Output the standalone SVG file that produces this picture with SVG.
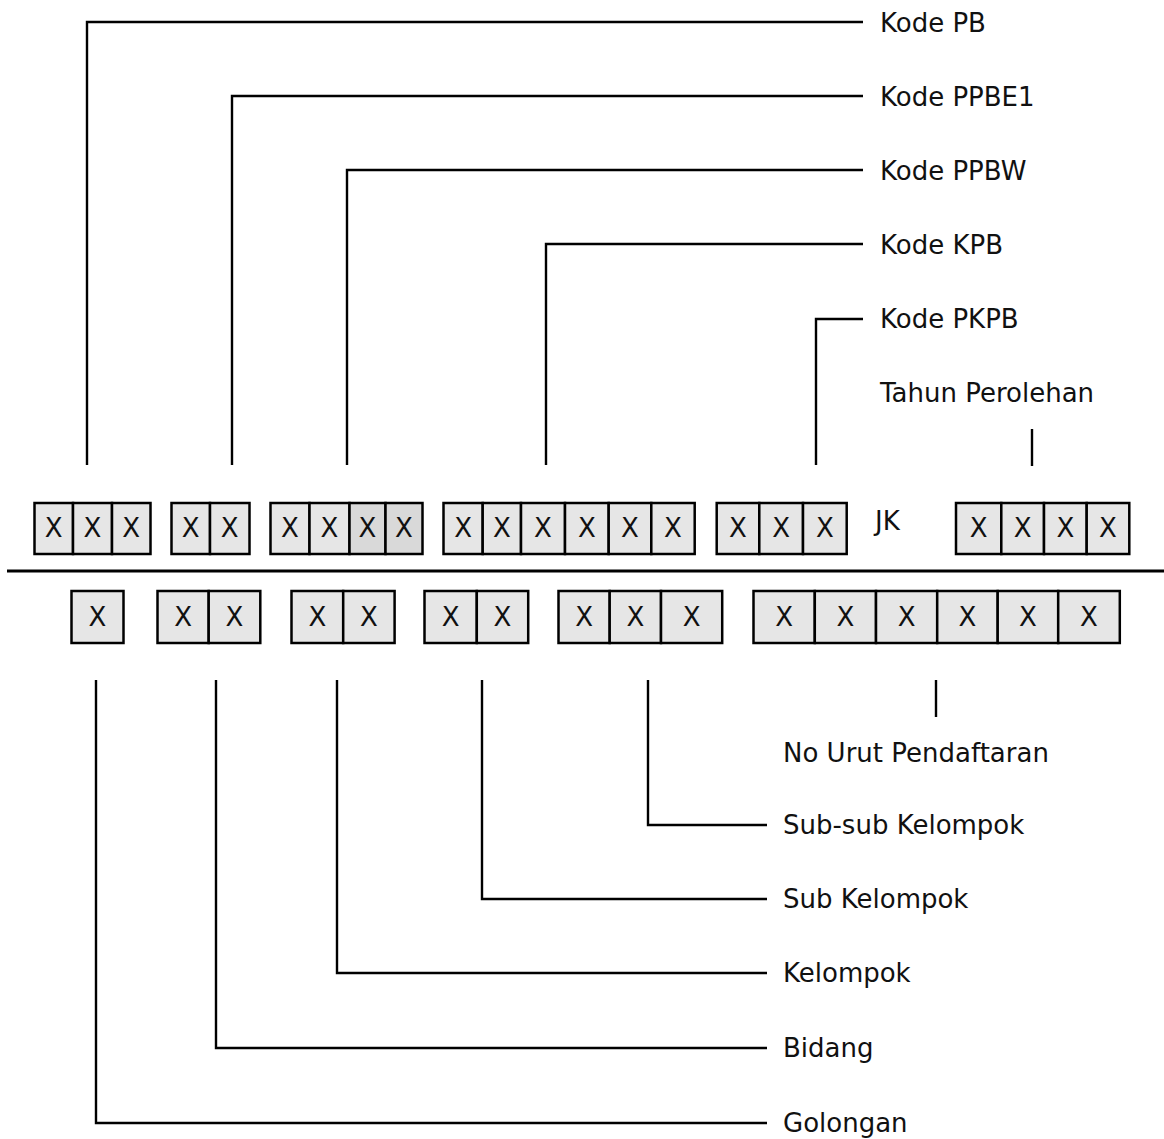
<svg xmlns="http://www.w3.org/2000/svg" width="1164" height="1139" viewBox="0 0 1164 1139">
<style>
.c{fill:#e6e6e6;stroke:#000;stroke-width:2.5}
.d{fill:#d9d9d9;stroke:#000;stroke-width:2.5}
.t{font-family:"DejaVu Sans","Liberation Sans",sans-serif;font-size:26px;fill:#111}
.x{font-family:"DejaVu Sans","Liberation Sans",sans-serif;font-size:26px;fill:#111;text-anchor:middle}
.l{fill:none;stroke:#000;stroke-width:2.4}
</style>
<rect width="1164" height="1139" fill="#fff"/>
<g id="connectors" class="l">
<polyline points="87,465 87,22 863,22"/>
<polyline points="232,465 232,96 863,96"/>
<polyline points="347,465 347,170 863,170"/>
<polyline points="546,465 546,244 863,244"/>
<polyline points="816,465 816,319 863,319"/>
<line x1="1032" y1="429" x2="1032" y2="466"/>
<polyline points="96,680 96,1123 767,1123"/>
<polyline points="216,680 216,1048 767,1048"/>
<polyline points="337,680 337,973 767,973"/>
<polyline points="482,680 482,899 767,899"/>
<polyline points="648,680 648,825 767,825"/>
<line x1="936" y1="680" x2="936" y2="717"/>
<line x1="7" y1="571" x2="1164" y2="571" stroke-width="3"/>
</g>
<g id="labels">
<text class="t" x="880" y="32">Kode PB</text>
<text class="t" x="880" y="106">Kode PPBE1</text>
<text class="t" x="880" y="180">Kode PPBW</text>
<text class="t" x="880" y="254">Kode KPB</text>
<text class="t" x="880" y="328">Kode PKPB</text>
<text class="t" x="880" y="402">Tahun Perolehan</text>
<text class="t" x="783" y="762">No Urut Pendaftaran</text>
<text class="t" x="783" y="834">Sub-sub Kelompok</text>
<text class="t" x="783" y="908">Sub Kelompok</text>
<text class="t" x="783" y="982">Kelompok</text>
<text class="t" x="783" y="1057">Bidang</text>
<text class="t" x="783" y="1132">Golongan</text>
<text class="t" x="875" y="530">JK</text>
</g>
<g id="top-1">
<rect class="c" x="34.5" y="503" width="38.5" height="51"/><rect class="c" x="73" y="503" width="39" height="51"/><rect class="c" x="112" y="503" width="38.5" height="51"/>
<text class="x" x="53.7" y="537">X</text><text class="x" x="92.5" y="537">X</text><text class="x" x="131.2" y="537">X</text>
</g>
<g id="top-2">
<rect class="c" x="171.5" y="503" width="38.5" height="51"/><rect class="c" x="210" y="503" width="39.5" height="51"/>
<text class="x" x="190.7" y="537">X</text><text class="x" x="229.7" y="537">X</text>
</g>
<g id="top-3">
<rect class="c" x="270.5" y="503" width="39" height="51"/><rect class="c" x="309.5" y="503" width="40" height="51"/><rect class="d" x="349.5" y="503" width="36" height="51"/><rect class="d" x="385.5" y="503" width="37" height="51"/>
<text class="x" x="290" y="537">X</text><text class="x" x="329.5" y="537">X</text><text class="x" x="367.5" y="537">X</text><text class="x" x="404" y="537">X</text>
</g>
<g id="top-4">
<rect class="c" x="443.5" y="503" width="39.2" height="51"/><rect class="c" x="482.7" y="503" width="38.3" height="51"/><rect class="c" x="521" y="503" width="44" height="51"/><rect class="c" x="565" y="503" width="43.7" height="51"/><rect class="c" x="608.7" y="503" width="42.6" height="51"/><rect class="c" x="651.3" y="503" width="43.4" height="51"/>
<text class="x" x="463.1" y="537">X</text><text class="x" x="501.8" y="537">X</text><text class="x" x="543" y="537">X</text><text class="x" x="586.8" y="537">X</text><text class="x" x="630" y="537">X</text><text class="x" x="673" y="537">X</text>
</g>
<g id="top-5">
<rect class="c" x="716.7" y="503" width="42.6" height="51"/><rect class="c" x="759.3" y="503" width="43.7" height="51"/><rect class="c" x="803" y="503" width="43.7" height="51"/>
<text class="x" x="738" y="537">X</text><text class="x" x="781.1" y="537">X</text><text class="x" x="824.8" y="537">X</text>
</g>
<g id="top-6">
<rect class="c" x="956" y="503" width="45.3" height="51"/><rect class="c" x="1001.3" y="503" width="42.7" height="51"/><rect class="c" x="1044" y="503" width="42.7" height="51"/><rect class="c" x="1086.7" y="503" width="42.6" height="51"/>
<text class="x" x="978.6" y="537">X</text><text class="x" x="1022.6" y="537">X</text><text class="x" x="1065.3" y="537">X</text><text class="x" x="1108" y="537">X</text>
</g>
<g id="bottom-1">
<rect class="c" x="71.5" y="591" width="52" height="52"/>
<text class="x" x="97.5" y="626">X</text>
</g>
<g id="bottom-2">
<rect class="c" x="157.5" y="591" width="51.2" height="52"/><rect class="c" x="208.7" y="591" width="51.6" height="52"/>
<text class="x" x="183.1" y="626">X</text><text class="x" x="234.5" y="626">X</text>
</g>
<g id="bottom-3">
<rect class="c" x="291.5" y="591" width="51.7" height="52"/><rect class="c" x="343.2" y="591" width="51.4" height="52"/>
<text class="x" x="317.3" y="626">X</text><text class="x" x="368.9" y="626">X</text>
</g>
<g id="bottom-4">
<rect class="c" x="424.5" y="591" width="52.3" height="52"/><rect class="c" x="476.8" y="591" width="51.4" height="52"/>
<text class="x" x="450.6" y="626">X</text><text class="x" x="502.5" y="626">X</text>
</g>
<g id="bottom-5">
<rect class="c" x="558.5" y="591" width="51.2" height="52"/><rect class="c" x="609.7" y="591" width="51.3" height="52"/><rect class="c" x="661" y="591" width="61.2" height="52"/>
<text class="x" x="584.1" y="626">X</text><text class="x" x="635.3" y="626">X</text><text class="x" x="691.6" y="626">X</text>
</g>
<g id="bottom-6">
<rect class="c" x="753.5" y="591" width="61.3" height="52"/><rect class="c" x="814.8" y="591" width="61.2" height="52"/><rect class="c" x="876" y="591" width="61.2" height="52"/><rect class="c" x="937.2" y="591" width="60.5" height="52"/><rect class="c" x="997.7" y="591" width="60.5" height="52"/><rect class="c" x="1058.2" y="591" width="61.6" height="52"/>
<text class="x" x="784.1" y="626">X</text><text class="x" x="845.4" y="626">X</text><text class="x" x="906.6" y="626">X</text><text class="x" x="967.4" y="626">X</text><text class="x" x="1028" y="626">X</text><text class="x" x="1089" y="626">X</text>
</g>
</svg>
